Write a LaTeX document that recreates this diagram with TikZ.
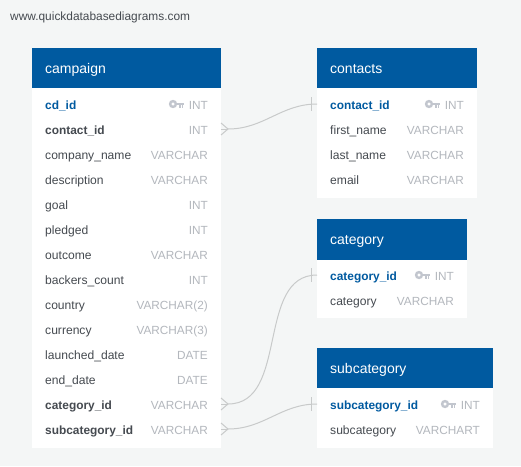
\documentclass[tikz,border=0pt]{standalone}
\usepackage{fontspec}
\setmainfont{Liberation Sans}
\usetikzlibrary{arrows,shapes}

\definecolor{pagegrey}{HTML}{F4F6F6}
\definecolor{headblue}{HTML}{005AA0}
\definecolor{fieldgrey}{HTML}{454A50}
\definecolor{typegrey}{HTML}{B3B7BD}
\definecolor{keygrey}{HTML}{C2C6CE}
\definecolor{linkgrey}{HTML}{C8CACA}

\tikzset{
  tablehead/.style={text=white,inner sep=0pt,anchor=west,text height=10pt,text depth=0pt,font=\fontsize{14}{16}\selectfont},
  tablebody/.style={fill=white,inner sep=0pt,anchor=north west},
  sitename/.style={text=fieldgrey,inner sep=0pt,anchor=west,text height=8pt,text depth=0pt,font=\fontsize{11.9}{14}\selectfont},
  fieldname/.style={text=fieldgrey,inner sep=0pt,anchor=west,text height=11pt,text depth=0pt,font=\fontsize{12.1}{14}\selectfont},
  fkname/.style={fieldname,font=\fontsize{11.9}{14}\selectfont\bfseries},
  pkname/.style={fkname,text=headblue},
  typename/.style={text=typegrey,inner sep=0pt,anchor=east,text height=11pt,text depth=0pt,font=\fontsize{11.8}{14}\selectfont},
  link/.style={draw=linkgrey,line width=1pt},
  keyicon/.pic={
    \draw[keygrey,line width=2.4pt](4,0)circle(2.9);
    \fill[keygrey](7,-1.4)rectangle(15,1.3);
    \fill[keygrey](10,1)rectangle(11.8,3.6);
    \fill[keygrey](12.6,1)rectangle(14.4,3.6);
  },
  crowfoot/.pic={
    \draw[link](0,0)--(-7,-6);
    \draw[link](0,0)--(-7,6);
  },
  onebar/.pic={
    \draw[link](-6,-7)--(-6,7);
  }
}

\begin{document}
\begin{tikzpicture}[x=1pt,y=-1pt]
  \fill[pagegrey](0,0)rectangle(521,466);
  \useasboundingbox(0,0)rectangle(521,466);
  \node[sitename](site)at(10,16){www.quickdatabasediagrams.com};

  % campaign
  \node[tablebody,minimum width=189pt,minimum height=360pt](campaign_body)at(32,88){};
  \fill[headblue](32,48)rectangle(221,88);
  \node[tablehead](campaign)at(45,68){campaign};
  \node[pkname](cd_id)at(45,104){cd\_id};
  \node[typename](cd_id_t)at(208,104){INT};
  \pic at(169,104){keyicon};
  \node[fkname](contact_id)at(45,129){contact\_id};
  \node[typename](contact_id_t)at(208,129){INT};
  \node[fieldname](company_name)at(45,154){company\_name};
  \node[typename](company_name_t)at(208,154){VARCHAR};
  \node[fieldname](description)at(45,179){description};
  \node[typename](description_t)at(208,179){VARCHAR};
  \node[fieldname](goal)at(45,204){goal};
  \node[typename](goal_t)at(208,204){INT};
  \node[fieldname](pledged)at(45,229){pledged};
  \node[typename](pledged_t)at(208,229){INT};
  \node[fieldname](outcome)at(45,254){outcome};
  \node[typename](outcome_t)at(208,254){VARCHAR};
  \node[fieldname](backers_count)at(45,279){backers\_count};
  \node[typename](backers_count_t)at(208,279){INT};
  \node[fieldname](country)at(45,304){country};
  \node[typename](country_t)at(208,304){VARCHAR(2)};
  \node[fieldname](currency)at(45,329){currency};
  \node[typename](currency_t)at(208,329){VARCHAR(3)};
  \node[fieldname](launched_date)at(45,354){launched\_date};
  \node[typename](launched_date_t)at(208,354){DATE};
  \node[fieldname](end_date)at(45,379){end\_date};
  \node[typename](end_date_t)at(208,379){DATE};
  \node[fkname](category_id)at(45,404){category\_id};
  \node[typename](category_id_t)at(208,404){VARCHAR};
  \node[fkname](subcategory_id)at(45,429){subcategory\_id};
  \node[typename](subcategory_id_t)at(208,429){VARCHAR};

  % contacts
  \node[tablebody,minimum width=160pt,minimum height=110pt](contacts_body)at(317,88){};
  \fill[headblue](317,48)rectangle(477,88);
  \node[tablehead](contacts)at(330,68){contacts};
  \node[pkname](contacts_id)at(330,104){contact\_id};
  \node[typename](contacts_id_t)at(464,104){INT};
  \pic at(425,104){keyicon};
  \node[fieldname](first_name)at(330,129){first\_name};
  \node[typename](first_name_t)at(464,129){VARCHAR};
  \node[fieldname](last_name)at(330,154){last\_name};
  \node[typename](last_name_t)at(464,154){VARCHAR};
  \node[fieldname](email)at(330,179){email};
  \node[typename](email_t)at(464,179){VARCHAR};

  % category
  \node[tablebody,minimum width=150pt,minimum height=58pt](category_body)at(317,260){};
  \fill[headblue](317,219)rectangle(467,260);
  \node[tablehead](category)at(330,239){category};
  \node[pkname](category_pk)at(330,275){category\_id};
  \node[typename](category_pk_t)at(454,275){INT};
  \pic at(415,275){keyicon};
  \node[fieldname](category_name)at(330,300){category};
  \node[typename](category_name_t)at(454,300){VARCHAR};

  % subcategory
  \node[tablebody,minimum width=176pt,minimum height=60pt](subcategory_body)at(317,388){};
  \fill[headblue](317,348)rectangle(493,388);
  \node[tablehead](subcategory)at(330,368){subcategory};
  \node[pkname](subcategory_pk)at(330,404){subcategory\_id};
  \node[typename](subcategory_pk_t)at(480,404){INT};
  \pic at(441,404){keyicon};
  \node[fieldname](subcategory_name)at(330,429){subcategory};
  \node[typename](subcategory_name_t)at(480,429){VARCHART};

  % links
  \coordinate(fk1)at(228,129);
  \coordinate(fk2)at(228,404);
  \coordinate(fk3)at(228,429);
  \coordinate(pk1)at(317,104);
  \coordinate(pk2)at(317,275);
  \coordinate(pk3)at(317,404);
  \path[link]
  (campaign_body.east|-fk1) edge (fk1)
  (campaign_body.east|-fk2) edge (fk2)
  (campaign_body.east|-fk3) edge (fk3)
  (fk1) edge[out=0,in=180] (pk1)
  (fk2) edge[out=0,in=180] (pk2)
  (fk3) edge[out=0,in=180] (pk3);
  \pic at(fk1){crowfoot};
  \pic at(fk2){crowfoot};
  \pic at(fk3){crowfoot};
  \pic at(pk1){onebar};
  \pic at(pk2){onebar};
  \pic at(pk3){onebar};
\end{tikzpicture}
\end{document}
